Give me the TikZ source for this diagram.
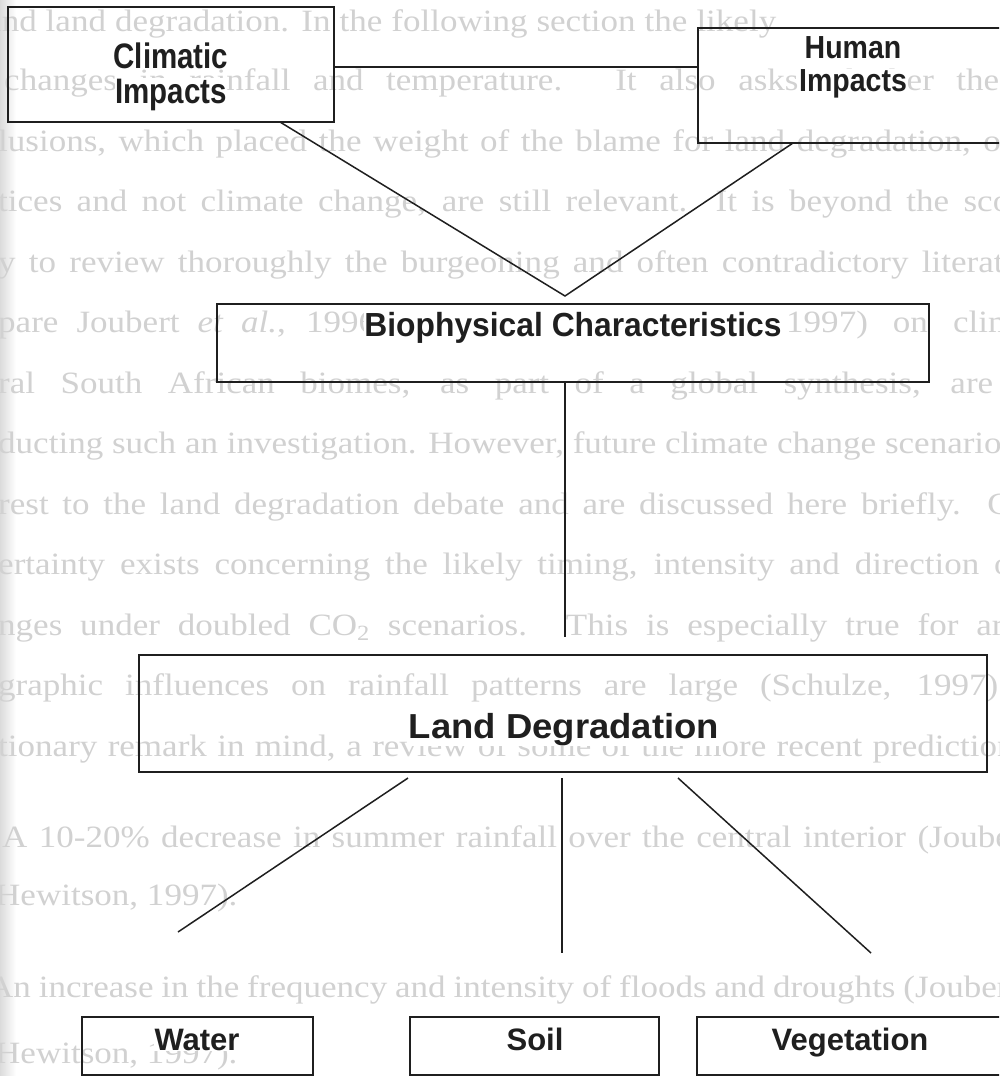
\documentclass[tikz,border=0pt]{standalone}
\usepackage{fontspec}
\setmainfont{Liberation Serif}
\newfontfamily\labfont{Liberation Sans}
\usepackage{graphicx}
\newcommand{\lab}[3]{\labfont\bfseries\fontsize{#1}{#1}\selectfont\scalebox{1}[#2]{#3}}
\newcommand{\bgline}[2]{\scalebox{1.13}[1]{\makebox[\dimexpr #1*100/113\relax][s]{#2}}}
\newcommand{\bgnat}[1]{\scalebox{1.13}[1]{#1}}
\tikzset{
  box/.style={draw=black!88, line width=2.2pt, rectangle, anchor=north west, inner sep=0pt, outer sep=0pt},
  conn/.style={draw=black!88, line width=1.5pt},
  lbl/.style={anchor=base, fill=white, inner sep=0.5pt, text=black!88},
  bg/.style={anchor=base west, inner sep=0pt, text=black!18, font=\fontsize{31}{31}\selectfont},
}
\begin{document}
\begin{tikzpicture}[x=1pt,y=-1pt]
\useasboundingbox (0,0) rectangle (999,1076);
\clip (0,0) rectangle (999,1076);
\fill[white] (0,0) rectangle (999,1076);
\shade[left color=black!14, right color=white] (0,0) rectangle (16,1076);

% faint page text behind the diagram
\node[bg] (t1)  at (-14,31)  {\bgline{790pt}{and land degradation. In the following section the likely}};
\node[bg] (t2)  at (4,90)    {\bgline{995pt}{changes in rainfall and temperature. It also asks whether the}};
\node[bg] (t3)  at (-2,151)  {\bgline{1020pt}{lusions, which placed the weight of the blame for land degradation, on}};
\node[bg] (t4)  at (-2,211)  {\bgline{1045pt}{tices and not climate change, are still relevant. It is beyond the scope}};
\node[bg] (t5)  at (-2,272)  {\bgline{1050pt}{y to review thoroughly the burgeoning and often contradictory literature}};
\node[bg] (t6a) at (-2,332)  {\bgline{378pt}{pare Joubert \emph{et al.}, 1996}};
\node[bg] (t6b) at (786,332) {\bgline{270pt}{1997) on climate}};
\node[bg] (t7)  at (-2,393)  {\bgline{995pt}{ral South African biomes, as part of a global synthesis, are}};
\node[bg] (t8)  at (-2,453)  {\bgnat{ducting such an investigation. However, future climate change scenarios}};
\node[bg] (t9)  at (-2,514)  {\bgline{1030pt}{rest to the land degradation debate and are discussed here briefly. Co}};
\node[bg] (t10) at (-2,574)  {\bgline{1025pt}{ertainty exists concerning the likely timing, intensity and direction of}};
\node[bg] (t11) at (-2,635)  {\bgline{1050pt}{nges under doubled CO\textsubscript{2} scenarios. This is especially true for areas}};
\node[bg] (t12) at (-2,695)  {\bgline{1000pt}{graphic influences on rainfall patterns are large (Schulze, 1997)}};
\node[bg] (t13) at (-2,756)  {\bgline{1030pt}{tionary remark in mind, a review of some of the more recent predictions}};
\node[bg] (i1)  at (2,847)   {\bgline{1030pt}{A 10-20\% decrease in summer rainfall over the central interior (Joubert}};
\node[bg] (i2)  at (-5,905)  {\bgnat{Hewitson, 1997).}};
\node[bg] (i3)  at (-12,997) {\bgline{1030pt}{An increase in the frequency and intensity of floods and droughts (Joubert}};
\node[bg] (i4)  at (-5,1063) {\bgnat{Hewitson, 1997).}};

% boxes
\node[box, minimum width=326pt, minimum height=115pt] (clim)  at (8,7) {};
\node[box, minimum width=310pt, minimum height=115pt] (hum)   at (698,28) {};
\node[box, minimum width=712pt, minimum height=78pt]  (bio)   at (217,304) {};
\node[box, minimum width=848pt, minimum height=117pt] (land)  at (139,655) {};
\node[box, minimum width=231pt, minimum height=58pt]  (water) at (82,1017) {};
\node[box, minimum width=249pt, minimum height=58pt]  (soil)  at (410,1017) {};
\node[box, minimum width=306pt, minimum height=58pt]  (veg)   at (697,1017) {};

% labels
\node[lbl] (climA) at (171,68)  {\lab{29.5}{1.2}{Climatic}};
\node[lbl] (climB) at (171,103) {\lab{29.5}{1.2}{Impacts}};
\node[lbl] (humA)  at (853,58)  {\lab{28.5}{1.12}{Human}};
\node[lbl] (humB)  at (853,91)  {\lab{28.5}{1.12}{Impacts}};
\node[lbl] (bioL)  at (573,336) {\lab{31.8}{1.05}{Biophysical Characteristics}};
\node[lbl] (landL) at (564,738) {\lab{36.5}{0.95}{Land Degradation}};
\node[lbl] (waterL) at (197,1050) {\lab{31}{1}{Water}};
\node[lbl] (soilL)  at (535,1050) {\lab{31}{1}{Soil}};
\node[lbl] (vegL)   at (850,1050) {\lab{31}{1}{Vegetation}};

% free ends
\coordinate (apex)  at (565,296);
\coordinate (bioend) at (565,637);
\coordinate (wend) at (178,932);
\coordinate (send) at (562,953);
\coordinate (vend) at (871,953);

% connectors
\draw[conn] ([yshift=-2.5pt]clim.east) -- ([yshift=18.5pt]hum.west);
\draw[conn] ([xshift=109pt]clim.south) -- (apex) -- ([xshift=-60pt]hum.south);
\draw[conn] ([xshift=-8pt]bio.south) -- (bioend);
\draw[conn] ([xshift=-155pt,yshift=-6pt]land.south) -- (wend);
\draw[conn] ([xshift=-1pt,yshift=-6pt]land.south) -- (send);
\draw[conn] ([xshift=115pt,yshift=-6pt]land.south) -- (vend);
\end{tikzpicture}
\end{document}
